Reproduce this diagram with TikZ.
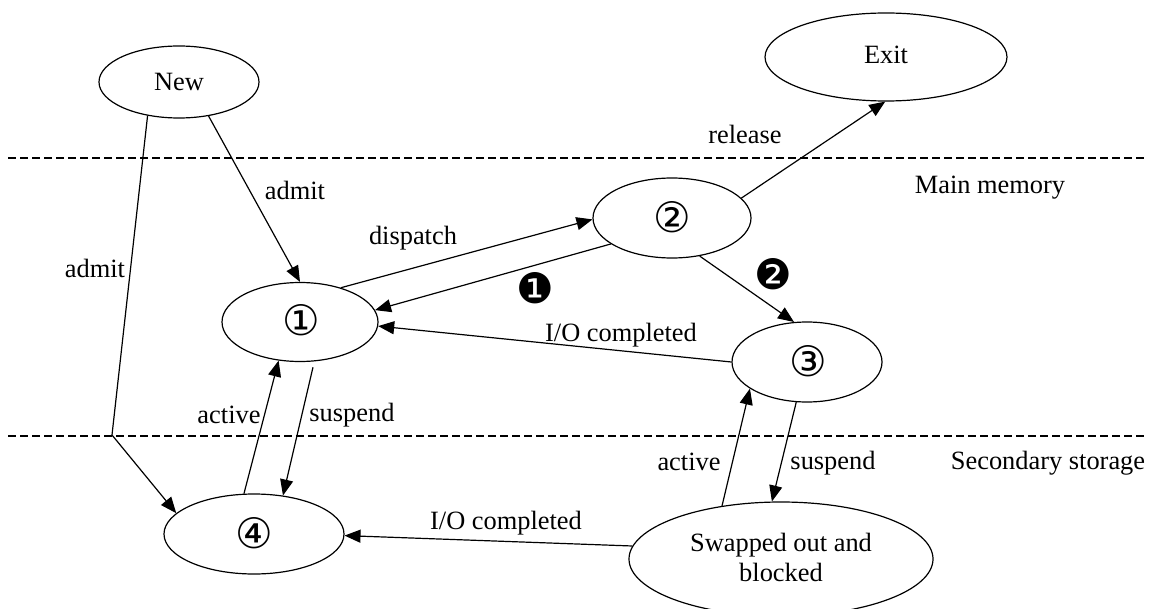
\documentclass[tikz,border=0pt]{standalone}
\usepackage{fontspec}
\setmainfont{Liberation Serif}
\newfontfamily\symfont{DejaVu Sans}
\usetikzlibrary{arrows.meta,shapes.geometric}

\tikzset{
  state/.style={draw, ellipse, inner sep=0pt, line width=0.6pt},
  trans/.style={line width=0.6pt, -{Triangle[length=8pt,width=6.5pt]}},
  plain/.style={line width=0.6pt},
  lbl/.style={inner sep=0pt, font=\fontsize{13.2}{15}\selectfont},
  num/.style={inner sep=0pt, font=\symfont\fontsize{21}{23}\selectfont},
  divider/.style={line width=0.6pt, dash pattern=on 4pt off 2pt}
}

\begin{document}
\begin{tikzpicture}[x=0.5pt, y=-0.5pt]
  \useasboundingbox (0,0) rectangle (1149,609);

  % memory boundaries
  \draw[divider] (8,158) -- (1147,158);
  \draw[divider] (8,436) -- (1147,436);

  % states
  \node[state, minimum width=80pt, minimum height=36pt] (new)  at (179,82)  {};
  \node[lbl] at (179,82) {New};
  \node[state, minimum width=121pt, minimum height=44pt] (exit) at (886,57)  {};
  \node[lbl] at (886,55) {Exit};
  \node[state, minimum width=79pt, minimum height=40pt] (s2)   at (672,218) {};
  \node[num] at (672,217) {②};
  \node[state, minimum width=78pt, minimum height=39.5pt] (s1)  at (300,322) {};
  \node[num] at (301,320) {①};
  \node[state, minimum width=75pt, minimum height=40pt] (s3)   at (807,362) {};
  \node[num] at (808,361) {③};
  \node[state, minimum width=90pt, minimum height=40pt] (s4)   at (254,534) {};
  \node[num] at (254,533) {④};
  \node[state, minimum width=152pt, minimum height=57pt] (sw)  at (781,559) {};
  \node[lbl, align=center] at (781,557) {Swapped out and\\blocked};

  % region names
  \node[lbl] at (990,188) {Main memory};
  \node[lbl] at (1048,463) {Secondary storage};

  % transitions
  \draw[trans] (new.-49) -- (s1.north);
  \coordinate (bend) at (112,435);
  \draw[plain] (new.-133) -- (bend);
  \draw[trans] (bend) -- (s4.165);
  \draw[trans] (s1.40) -- (s2.181);
  \draw[trans] (s2.203) -- (s1.9);
  \draw[trans] (s2.-54) -- (s3.108);
  \draw[trans] (s3.west) -- (s1.-3);
  \draw[trans, shorten <=3pt] (s1.-70) -- (s4.53);
  \draw[trans] (s4.104) -- (s1.-119);
  \draw[trans] (s2.16) -- (exit.-91);
  \draw[trans] (s3.-105) -- (sw.99);
  \draw[trans] (sw.138) -- (s3.205);
  \draw[trans] (sw.175) -- (s4.-1);

  % transition labels
  \node[lbl] at (295,190) {admit};
  \node[lbl] at (95,268) {admit};
  \node[lbl] at (413,238) {dispatch};
  \node[num] at (535,288) {❶};
  \node[num] at (773,274) {❷};
  \node[lbl] at (621,335) {I/O completed};
  \node[lbl] at (745,134) {release};
  \node[lbl] at (229,415) {active};
  \node[lbl] at (352,415) {suspend};
  \node[lbl] at (506,523) {I/O completed};
  \node[lbl] at (689,462) {active};
  \node[lbl] at (833,463) {suspend};
\end{tikzpicture}
\end{document}
